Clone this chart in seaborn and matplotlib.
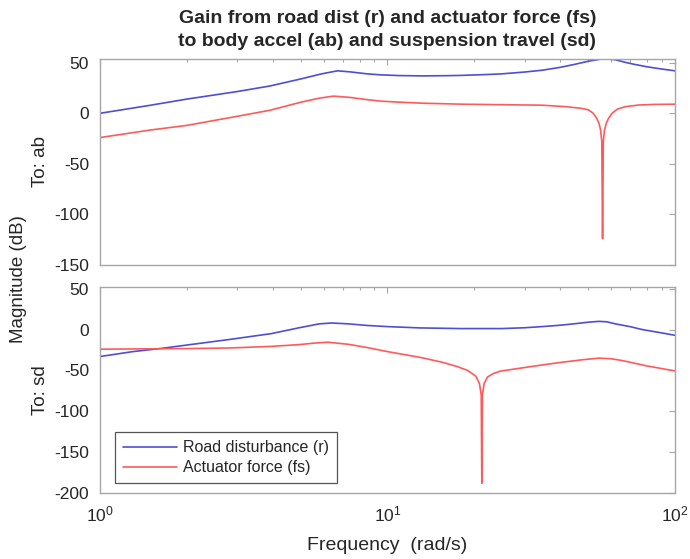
import numpy as np
import pandas as pd
import seaborn as sns
import matplotlib.pyplot as plt
from matplotlib.ticker import LogLocator, NullFormatter

#%% Values (frequency in rad/s, magnitude in dB)

inputs = ['Road disturbance (r)', 'Actuator force (fs)']

# output ab (body accel)
freq_ab_r = [1.0, 1.5, 2.0, 3.0, 3.9, 5.0, 5.9, 6.7, 7.4, 8.5, 9.5, 11, 13.2, 16, 18.2,
             22, 25, 30, 34.6, 40, 45, 50, 55, 58, 62, 67, 72, 80, 90, 100]
mag_ab_r = [0, 8, 14, 21.5, 27, 34, 39, 42, 41, 39, 38, 37.3, 37, 37.2, 37.5,
            38.3, 39, 40.8, 42.6, 45.5, 48.5, 51.5, 53.5, 53.8, 53, 50.5, 48.5, 46, 43.8, 42]

freq_ab_fs = [1.0, 1.5, 2.0, 3.0, 3.9, 5.0, 5.8, 6.5, 7.4, 8.5, 9.5, 11, 13.2, 18.2, 25,
              34.6, 42, 47, 50, 52, 53.5, 54.5, 55.2, 55.7, 56.05, 56.4, 56.9, 57.7,
              58.8, 60.5, 63, 67, 75, 85, 100]
mag_ab_fs = [-24, -16.5, -12, -3, 3, 11, 15, 17, 15.7, 13.5, 12, 11, 10, 9, 8.5,
             8, 6.5, 5, 3.5, 0, -5, -10, -17, -28, -124, -28, -17, -10,
             -5, 0, 4, 6.5, 8.2, 8.8, 9]

# output sd (suspension travel)
freq_sd_r = [1.0, 1.3, 1.64, 2.0, 2.84, 3.94, 4.9, 5.8, 6.4, 7.3, 8.5, 10, 13, 18, 25,
             30, 34.5, 40, 44.5, 50, 54.4, 58, 62, 70, 77, 88, 100]
mag_sd_r = [-33, -27, -23, -19, -12, -5, 2, 7, 8, 7, 5, 3.6, 2, 1.2, 1.2,
            2.2, 3.6, 5.3, 7, 9, 10, 9.5, 7, 3.5, 0, -3.5, -7]

freq_sd_fs = [1.0, 1.64, 2.0, 2.84, 3.94, 4.9, 5.6, 6.2, 7.3, 8.5, 10, 13, 15.5, 17.4,
              19, 20.3, 20.9, 21.2, 21.3, 21.4, 21.7, 22.3, 23.3, 24.6, 29.3, 35,
              40.5, 47.6, 54.4, 60, 65.8, 80, 100]
mag_sd_fs = [-24, -23.5, -23.3, -22.5, -20.6, -18.5, -16.5, -15.5, -18, -22, -27, -34,
             -40, -45, -50, -57, -66, -80, -188, -80, -66, -58, -54, -51, -47, -43,
             -40, -37, -35, -35.7, -38, -44.5, -50.6]


#%% Arrange dataframes

df_ab = pd.concat([
    pd.DataFrame({'freq': freq_ab_r, 'mag': mag_ab_r, 'input': inputs[0]}),
    pd.DataFrame({'freq': freq_ab_fs, 'mag': mag_ab_fs, 'input': inputs[1]}),
])
df_sd = pd.concat([
    pd.DataFrame({'freq': freq_sd_r, 'mag': mag_sd_r, 'input': inputs[0]}),
    pd.DataFrame({'freq': freq_sd_fs, 'mag': mag_sd_fs, 'input': inputs[1]}),
])


#%% Plot

sns.set_style('white')
plt.rcParams['font.family'] = ['Liberation Sans', 'DejaVu Sans']
plt.rcParams['axes.unicode_minus'] = False
palette = {inputs[0]: '#4e4ed6', inputs[1]: '#ff5a5a'}
frame_col = '#a6a6a6'
text_col = '#262626'

fig = plt.figure(figsize=(6.9, 5.59), dpi=100)
ax_ab = fig.add_axes([0.145, 0.526, 0.833, 0.369])
ax_sd = fig.add_axes([0.145, 0.118, 0.833, 0.3685])

for ax, df, ylim, yticks in [(ax_ab, df_ab, (-150, 54), [-150, -100, -50, 0, 50]),
                             (ax_sd, df_sd, (-200, 52), [-200, -150, -100, -50, 0, 50])]:
    sns.lineplot(data=df, x='freq', y='mag', hue='input', hue_order=inputs,
                 palette=palette, estimator=None, linewidth=1.2, legend=False, ax=ax)
    ax.set_xscale('log')
    ax.set_xlim(1, 100)
    ax.set_ylim(*ylim)
    ax.set_yticks(yticks)
    ax.xaxis.set_minor_locator(LogLocator(base=10, subs=np.arange(2, 10)))
    ax.xaxis.set_minor_formatter(NullFormatter())
    ax.tick_params(which='both', direction='in', top=True, right=True,
                   color=frame_col, labelsize=12.5, labelcolor=text_col)
    ax.tick_params(which='major', length=4, width=0.8)
    ax.tick_params(which='minor', length=2.5, width=0.8)
    ax.tick_params(axis='y', pad=8)
    ax.tick_params(axis='x', pad=8)
    for sp in ax.spines.values():
        sp.set_color(frame_col)
        sp.set_linewidth(1.0)
    ax.set_xlabel('')

ax_ab.set_xticklabels([])
ax_ab.set_ylabel('To: ab', fontsize=13.5, color=text_col, labelpad=4)
ax_sd.set_ylabel('To: sd', fontsize=13.5, color=text_col, labelpad=4)
ax_sd.set_xlabel('Frequency  (rad/s)', fontsize=14, color=text_col, labelpad=9)
ax_ab.set_title('Gain from road dist (r) and actuator force (fs)\n'
                'to body accel (ab) and suspension travel (sd)',
                fontsize=14, fontweight='bold', color=text_col, linespacing=1.45, pad=9)
fig.text(0.027, 0.5, 'Magnitude (dB)', rotation=90, ha='center', va='center',
         fontsize=13.5, color=text_col)

leg = ax_sd.legend(ax_sd.lines[:2], inputs, loc='lower left',
                   bbox_to_anchor=(0.026, 0.048), borderaxespad=0, fontsize=11.5,
                   frameon=True, fancybox=False, edgecolor='#555555', framealpha=1,
                   handlelength=3.4, handletextpad=0.35,
                   borderpad=0.5, labelspacing=0.3)
leg.get_frame().set_linewidth(0.9)

fig.savefig('out.png', dpi=100)
